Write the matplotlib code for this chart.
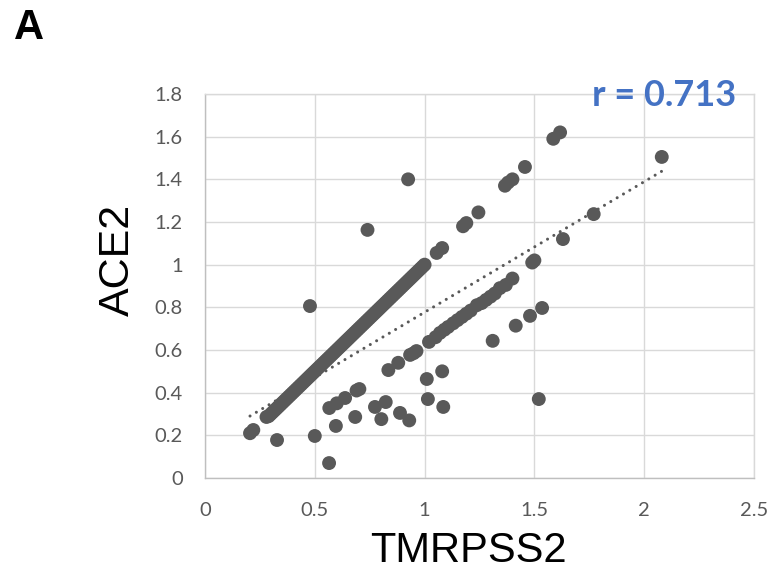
import matplotlib
matplotlib.use("Agg")
import matplotlib.pyplot as plt
import numpy as np

# ---- data ----
# points lying on the identity band (TMRPSS2, ACE2)
diag_x = [0.205, 0.22, 0.28, 0.29, 0.30, 0.31, 0.32, 0.33, 0.34, 0.35, 0.36, 0.37,
          0.38, 0.39, 0.40, 0.41, 0.42, 0.43, 0.44, 0.45, 0.46, 0.47, 0.48, 0.49,
          0.50, 0.51, 0.52, 0.53, 0.54, 0.55, 0.56, 0.57, 0.58, 0.59, 0.60, 0.61,
          0.62, 0.63, 0.64, 0.65, 0.66, 0.67, 0.68, 0.69, 0.70, 0.71, 0.72, 0.73,
          0.74, 0.75, 0.76, 0.77, 0.78, 0.79, 0.80, 0.81, 0.82, 0.83, 0.84, 0.85,
          0.86, 0.87, 0.88, 0.89, 0.90, 0.91, 0.92, 0.93, 0.94, 0.95, 0.96, 0.97,
          0.98, 0.99, 1.00, 1.055, 1.08, 1.175, 1.19, 1.245, 1.366, 1.38, 1.40,
          1.457, 1.586, 1.617]
diag_y = [0.21, 0.225, 0.286, 0.29, 0.30, 0.31, 0.32, 0.33, 0.34, 0.35, 0.36, 0.37,
          0.38, 0.39, 0.40, 0.41, 0.42, 0.43, 0.44, 0.45, 0.46, 0.47, 0.48, 0.49,
          0.50, 0.51, 0.52, 0.53, 0.54, 0.55, 0.56, 0.57, 0.58, 0.59, 0.60, 0.61,
          0.62, 0.63, 0.64, 0.65, 0.66, 0.67, 0.68, 0.69, 0.70, 0.71, 0.72, 0.73,
          0.74, 0.75, 0.76, 0.77, 0.78, 0.79, 0.80, 0.81, 0.82, 0.83, 0.84, 0.85,
          0.86, 0.87, 0.88, 0.89, 0.90, 0.91, 0.92, 0.93, 0.94, 0.95, 0.96, 0.97,
          0.98, 0.99, 1.00, 1.055, 1.078, 1.18, 1.195, 1.245, 1.37, 1.385, 1.40,
          1.458, 1.59, 1.62]

# points on the lower band
low_x = [0.835, 0.88, 0.934, 0.95, 0.963, 1.02, 1.05, 1.07, 1.09, 1.107, 1.13,
         1.15, 1.17, 1.19, 1.21, 1.238, 1.26, 1.28, 1.30, 1.32, 1.343, 1.37,
         1.40, 1.49, 1.50]
low_y = [0.506, 0.54, 0.577, 0.585, 0.595, 0.638, 0.66, 0.68, 0.695, 0.708, 0.725,
         0.74, 0.755, 0.77, 0.785, 0.81, 0.82, 0.835, 0.85, 0.865, 0.89, 0.905,
         0.935, 1.01, 1.02]

# scattered points
out_x = [0.328, 0.50, 0.565, 0.478, 0.566, 0.60, 0.638, 0.69, 0.703, 0.596, 0.684,
         0.774, 0.823, 0.803, 0.888, 0.93, 1.01, 1.08, 1.015, 1.085, 1.31, 1.415,
         1.48, 1.535, 1.52, 0.925, 0.74, 2.08, 1.77, 1.63]
out_y = [0.178, 0.197, 0.07, 0.806, 0.328, 0.35, 0.375, 0.41, 0.417, 0.244, 0.286,
         0.333, 0.356, 0.276, 0.305, 0.27, 0.464, 0.50, 0.37, 0.333, 0.643, 0.714,
         0.76, 0.797, 0.37, 1.40, 1.163, 1.505, 1.237, 1.12]

# linear trend line (as drawn in the reference)
trend_x = [0.205, 2.08]
trend_slope = 0.612
trend_intercept = 0.165
r_text = "r = 0.713"

x_ticks = [0, 0.5, 1, 1.5, 2, 2.5]
x_tick_labels = ["0", "0.5", "1", "1.5", "2", "2.5"]
y_ticks = [0, 0.2, 0.4, 0.6, 0.8, 1.0, 1.2, 1.4, 1.6, 1.8]
y_tick_labels = ["0", "0.2", "0.4", "0.6", "0.8", "1", "1.2", "1.4", "1.6", "1.8"]

# ---- drawing ----
W, H = 773, 572
fig = plt.figure(figsize=(W / 100, H / 100), dpi=100)
ax = fig.add_axes([205 / W, 1 - 478 / H, (754 - 205) / W, (478 - 94) / H])

mcol = "#595959"
all_x = diag_x + low_x + out_x
all_y = diag_y + low_y + out_y
ax.scatter(all_x, all_y, s=100, color=mcol, edgecolors="none", zorder=3)

tx = np.array(trend_x)
ax.plot(tx, trend_slope * tx + trend_intercept, color=mcol, lw=2.2,
        linestyle=(0, (0.01, 2.4)), dash_capstyle="round", zorder=4)

ax.set_xlim(0, 2.5)
ax.set_ylim(0, 1.8)
ax.set_xticks(x_ticks)
ax.set_xticklabels(x_tick_labels)
ax.set_yticks(y_ticks)
ax.set_yticklabels(y_tick_labels)
ax.grid(True, color="#d9d9d9", lw=1.0, zorder=0)
ax.set_axisbelow(True)
for side in ["top", "right"]:
    ax.spines[side].set_color("#d9d9d9")
    ax.spines[side].set_linewidth(1.0)
for side in ["left", "bottom"]:
    ax.spines[side].set_color("#bfbfbf")
    ax.spines[side].set_linewidth(1.0)

tick_font = dict(family=["Lato", "DejaVu Sans"], size=14.5)
ax.tick_params(axis="both", length=0, colors="#595959")
ax.tick_params(axis="x", pad=17)
ax.tick_params(axis="y", pad=16)
for lab in ax.get_xticklabels() + ax.get_yticklabels():
    lab.set_fontfamily(tick_font["family"])
    lab.set_fontsize(tick_font["size"])
    lab.set_color("#595959")

fig.text(468 / W, 1 - 551 / H, "TMRPSS2", ha="center", va="center",
         fontsize=30, family=["Liberation Sans", "DejaVu Sans"], color="black")
fig.text(118 / W, 1 - 260 / H, "ACE2", ha="center", va="center", rotation=90,
         fontsize=31, family=["Liberation Sans", "DejaVu Sans"], color="black")
fig.text(14 / W, 1 - 28 / H, "A", ha="left", va="center", fontsize=30,
         fontweight="bold", family=["Liberation Sans", "DejaVu Sans"], color="black")
fig.text(736 / W, 1 - 95 / H, r_text, ha="right", va="center", fontsize=26,
         fontweight="bold", family=["Lato", "DejaVu Sans"], color="#4472C4")

fig.savefig("out.png", dpi=100)
